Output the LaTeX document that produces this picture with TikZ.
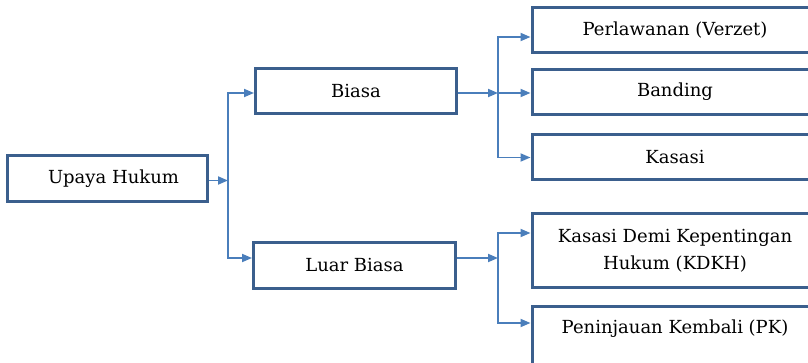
\documentclass[tikz,border=0pt]{standalone}
\usepackage{fontspec}
\setmainfont{DejaVu Serif}
\usetikzlibrary{arrows.meta}
\definecolor{boxblue}{HTML}{3B5F8D}
\definecolor{linkblue}{HTML}{4A7EBB}
\begin{document}
\begin{tikzpicture}[x=1pt,y=-1pt,
  box/.style={draw=boxblue, line width=3pt, fill=white, inner sep=0pt,
    align=center, font=\fontsize{18}{27}\selectfont},
  arr/.style={draw=linkblue, line width=1.8pt,
    -{Triangle[length=10pt,width=8pt]}}]
\clip (0,0) rectangle (808,363);
\fill[white] (0,0) rectangle (808,363);

% root and first level
\node[box, minimum width=200pt, minimum height=46pt] (upaya) at (107.5,178.5) {\hspace*{12pt}Upaya Hukum};
\node[box, minimum width=201pt, minimum height=45pt] (biasa) at (356,91.5) {Biasa};
\node[box, minimum width=202pt, minimum height=45pt] (luar) at (354.5,265.5) {Luar Biasa};

% second level (running off the right edge)
\node[box, minimum width=286pt, minimum height=45pt] (perl) at (675,30.5) {Perlawanan (Verzet)};
\node[box, minimum width=286pt, minimum height=45pt] (banding) at (675,92) {Banding};
\node[box, minimum width=286pt, minimum height=45pt] (kasasi) at (675,157.5) {Kasasi};
\node[box, minimum width=286pt, minimum height=74pt] (kdkh) at (675,250.5) {Kasasi Demi Kepentingan\\Hukum (KDKH)};
\node[box, minimum width=286pt, minimum height=66pt, text height=13pt, text depth=25pt] (pk) at (675,339) {Peninjauan Kembali (PK)};

% branching points
\coordinate (j1) at ([xshift=19pt,yshift=-2pt]upaya.east);
\coordinate (j2) at ([xshift=40pt,yshift=-1.5pt]biasa.east);
\coordinate (j3) at ([xshift=41pt,yshift=7.5pt]luar.east);

% connectors
\draw[arr] ([yshift=-2pt]upaya.east) -- (j1);
\draw[arr] (j1) |- ([yshift=-1.5pt]biasa.west);
\draw[arr] (j1) |- ([yshift=7.5pt]luar.west);

\draw[arr] ([yshift=-1.5pt]biasa.east) -- (j2);
\draw[arr] (j2) |- ([yshift=-6.5pt]perl.west);
\draw[arr] (j2) |- ([yshift=-1pt]banding.west);
\draw[arr] (j2) |- (kasasi.west);

\draw[arr] ([yshift=7.5pt]luar.east) -- (j3);
\draw[arr] (j3) |- ([yshift=17.5pt]kdkh.west);
\draw[arr] (j3) |- ([yshift=16pt]pk.west);
\end{tikzpicture}
\end{document}
